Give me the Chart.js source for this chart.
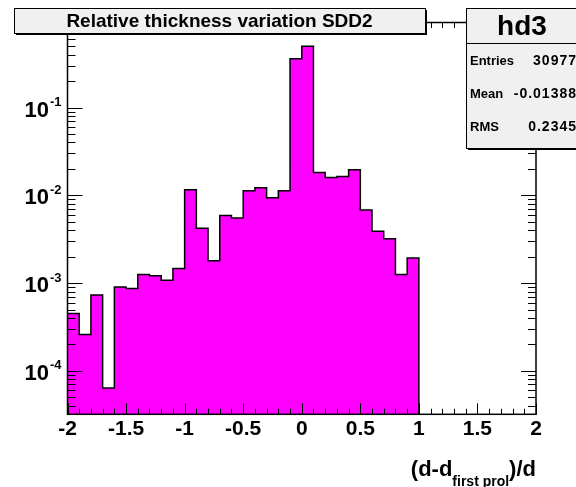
<!DOCTYPE html>
<html>
<head>
<meta charset="utf-8">
<script src="https://cdn.jsdelivr.net/npm/chart.js@4.4.0/dist/chart.umd.min.js"></script>
<style>
  html, body { margin: 0; padding: 0; background: #fff; }
  #wrap { width: 576px; height: 487px; }
</style>
</head>
<body>
<div id="wrap"><canvas id="hist" width="576" height="487"></canvas></div>
<script>
// histogram hd3: lower bin edges and contents (bins above 1.0 are empty)
const binLow = [-2.0, -1.9, -1.8, -1.7, -1.6, -1.5, -1.4, -1.3, -1.2, -1.1,
                -1.0, -0.9, -0.8, -0.7, -0.6, -0.5, -0.4, -0.3, -0.2, -0.1,
                 0.0,  0.1,  0.2,  0.3,  0.4,  0.5,  0.6,  0.7,  0.8,  0.9];
const binContent = [4.5e-4, 2.6e-4, 7.3e-4, 6.4e-5, 9.0e-4, 8.7e-4, 1.25e-3, 1.21e-3, 1.08e-3, 1.47e-3,
                    1.16e-2, 4.2e-3, 1.8e-3, 5.9e-3, 5.5e-3, 1.13e-2, 1.22e-2, 9.4e-3, 1.13e-2, 0.36,
                    0.50, 1.82e-2, 1.59e-2, 1.64e-2, 1.95e-2, 6.8e-3, 3.9e-3, 3.2e-3, 1.25e-3, 1.93e-3];
const binWidth = 0.1;

const xTicks = [-2, -1.5, -1, -0.5, 0, 0.5, 1, 1.5, 2];
const xTickLabels = ['-2', '-1.5', '-1', '-0.5', '0', '0.5', '1', '1.5', '2'];
const yDecades = [-4, -3, -2, -1];
const yMin = 3.2e-5;
const yMax = 0.93;

const histTitle = 'Relative thickness variation SDD2';
const statName = 'hd3';
const statLabels = ['Entries', 'Mean', 'RMS'];
const statValues = ['30977', '-0.01388', '0.2345'];

const FONT = '"Liberation Sans", Arial, sans-serif';

// step outline points
const pts = binLow.map((x, i) => ({ x: x, y: binContent[i] }));
const xEnd = binLow[binLow.length - 1] + binWidth;
pts.push({ x: xEnd, y: binContent[binContent.length - 1] });
pts.push({ x: xEnd, y: yMin });

function line(ctx, x1, y1, x2, y2) {
  ctx.beginPath();
  ctx.moveTo(x1, y1);
  ctx.lineTo(x2, y2);
  ctx.stroke();
}

const rootFrame = {
  id: 'rootFrame',
  afterDraw(chart) {
    const ctx = chart.ctx;
    const a = chart.chartArea;
    const x = chart.scales.x;
    const y = chart.scales.y;
    ctx.save();
    ctx.strokeStyle = '#000';
    ctx.fillStyle = '#000';
    ctx.lineWidth = 1;

    // x ticks, bottom and top
    for (let i = 0; i <= 40; i++) {
      const v = -2 + i * 0.1;
      const px = Math.round(x.getPixelForValue(v)) + 0.5;
      const len = i % 5 === 0 ? 11 : 5.5;
      line(ctx, px, a.bottom, px, a.bottom - len);
      line(ctx, px, a.top, px, a.top + len);
    }
    // y ticks, left and right
    for (let e = -5; e <= 0; e++) {
      for (let k = 1; k <= 9; k++) {
        const v = k * Math.pow(10, e);
        if (v < yMin || v > yMax) continue;
        const py = Math.round(y.getPixelForValue(v)) + 0.5;
        const len = k === 1 ? 15 : 8;
        line(ctx, a.left, py, a.left + len, py);
        line(ctx, a.right, py, a.right - len, py);
      }
    }
    // frame
    ctx.lineWidth = 1.5;
    ctx.strokeRect(a.left, a.top, a.right - a.left, a.bottom - a.top);

    // x labels
    ctx.textAlign = 'center';
    ctx.textBaseline = 'middle';
    ctx.font = 'bold 21px ' + FONT;
    xTicks.forEach((v, i) => {
      ctx.fillText(xTickLabels[i], x.getPixelForValue(v), a.bottom + 15);
    });

    // y labels 10^n
    yDecades.forEach(e => {
      const py = y.getPixelForValue(Math.pow(10, e));
      const exp = String(e);
      ctx.font = 'bold 13px ' + FONT;
      const ew = ctx.measureText(exp).width;
      ctx.textAlign = 'left';
      ctx.fillText(exp, a.left - 6 - ew, py - 5);
      ctx.font = 'bold 22px ' + FONT;
      ctx.textAlign = 'right';
      ctx.fillText('10', a.left - 7 - ew, py + 3);
    });

    // x axis title (d-d_{first prol})/d, right aligned
    ctx.textAlign = 'left';
    ctx.font = 'bold 22px ' + FONT;
    const t1 = '(d-d', t3 = ')/d', sub = 'first prol';
    const w1 = ctx.measureText(t1).width;
    const w3 = ctx.measureText(t3).width;
    ctx.font = 'bold 14px ' + FONT;
    const ws = ctx.measureText(sub).width;
    let tx = a.right - (w1 + ws + w3);
    ctx.font = 'bold 22px ' + FONT;
    ctx.fillText(t1, tx, 470);
    ctx.font = 'bold 14px ' + FONT;
    ctx.fillText(sub, tx + w1, 482);
    ctx.font = 'bold 22px ' + FONT;
    ctx.fillText(t3, tx + w1 + ws, 470);

    // title box
    const bx = 14, by = 8, bw = 411, bh = 25;
    ctx.fillRect(bx + 2, by + 2, bw, bh);
    ctx.fillStyle = '#f0f0f0';
    ctx.fillRect(bx, by, bw, bh);
    ctx.lineWidth = 1;
    ctx.strokeRect(bx + 0.5, by + 0.5, bw, bh);
    ctx.fillStyle = '#000';
    ctx.textAlign = 'center';
    ctx.font = 'bold 19px ' + FONT;
    ctx.fillText(histTitle, bx + bw / 2, by + bh / 2 + 1);

    // stats box
    const sx = 466, sy = 8, sw = 112, sh = 140;
    ctx.fillRect(sx + 2, sy + 2, sw, sh);
    ctx.fillStyle = '#f0f0f0';
    ctx.fillRect(sx, sy, sw, sh);
    ctx.strokeRect(sx + 0.5, sy + 0.5, sw, sh);
    line(ctx, sx, 43.5, sx + sw, 43.5);
    ctx.fillStyle = '#000';
    ctx.font = 'bold 28px ' + FONT;
    ctx.fillText(statName, sx + sw / 2, 27);
    statLabels.forEach((lab, i) => {
      const ry = 61 + i * 33;
      ctx.font = 'bold 13px ' + FONT;
      ctx.textAlign = 'left';
      ctx.fillText(lab, sx + 4, ry);
      ctx.font = 'bold 14px ' + FONT;
      ctx.letterSpacing = '1px';
      ctx.textAlign = 'right';
      ctx.fillText(statValues[i], 577, ry);
      ctx.letterSpacing = '0px';
    });
    ctx.restore();
  }
};

new Chart(document.getElementById('hist'), {
  type: 'line',
  data: {
    datasets: [{
      data: pts,
      stepped: 'before',
      fill: 'start',
      backgroundColor: '#ff00ff',
      borderColor: '#000000',
      borderWidth: 1.5,
      pointRadius: 0
    }]
  },
  options: {
    responsive: false,
    animation: false,
    devicePixelRatio: 1,
    layout: { padding: { left: 67.5, right: 40, top: 22.5, bottom: 72.7 } },
    scales: {
      x: { type: 'linear', min: -2, max: 2, display: false },
      y: { type: 'logarithmic', min: yMin, max: yMax, display: false }
    },
    plugins: { legend: { display: false }, tooltip: { enabled: false } }
  },
  plugins: [rootFrame]
});
</script>
</body>
</html>
